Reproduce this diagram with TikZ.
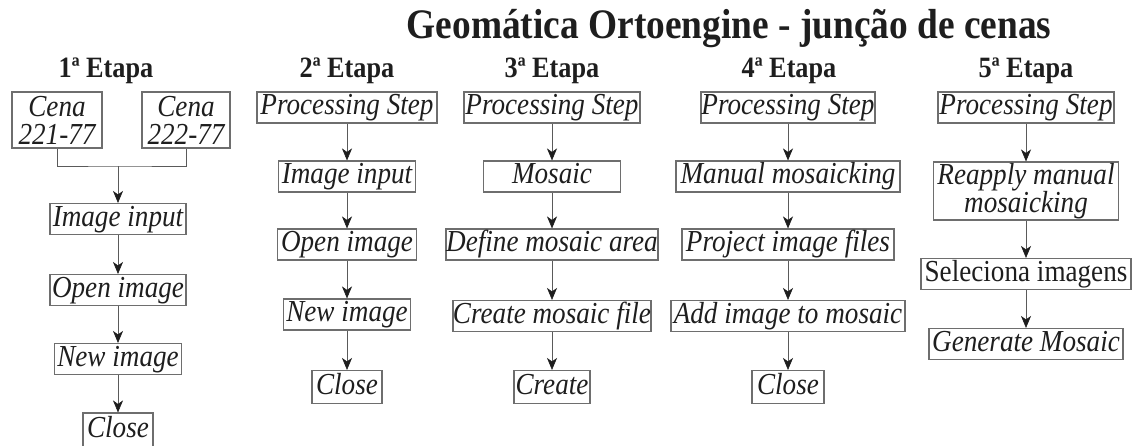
\documentclass[tikz,border=0pt]{standalone}
\usepackage{fontspec}
\setmainfont{Liberation Serif}[FakeStretch=0.89]
\usetikzlibrary{arrows.meta}
\definecolor{boxgray}{HTML}{6E6E6E}
\definecolor{linegray}{HTML}{5A5A5A}
\definecolor{ink}{HTML}{1E1E1E}
\tikzset{
  box/.style={draw=boxgray, line width=1.1pt, inner sep=0pt, minimum height=31pt, text=ink,
    font=\fontsize{30.5}{33}\selectfont\itshape, text height=20.5pt, text depth=6.5pt, anchor=center},
  box2/.style={draw=boxgray, line width=1.1pt, inner sep=0pt, text=ink, align=center,
    font=\fontsize{30.5}{28}\selectfont\itshape, anchor=center},
  arr/.style={draw=linegray, line width=1pt, -{Stealth[length=12pt,width=10pt,inset=3.5pt,color=ink,fill=ink,line width=0.6pt]}},
  conn/.style={draw=linegray, line width=1pt},
  head/.style={font=\fontsize{29.5}{31}\selectfont\bfseries, anchor=base, text=ink, inner sep=0pt},
  ttl/.style={font=\fontsize{42}{44}\selectfont\bfseries, anchor=base, text=ink, inner sep=0pt},
}
\begin{document}
\begin{tikzpicture}[x=1pt,y=-1pt]
\useasboundingbox (0,0) rectangle (1132,445);
\node[ttl] (title) at (729,38) {Geomática Ortoengine - junção de cenas};
% headings
\node[head] (h1) at (106,77) {1ª Etapa};
\node[head] (h2) at (347,77) {2ª Etapa};
\node[head] (h3) at (552,77) {3ª Etapa};
\node[head] (h4) at (789,77) {4ª Etapa};
\node[head] (h5) at (1026,77) {5ª Etapa};
% column 1
\node[box2, minimum width=90pt, minimum height=56pt] (c1) at (57,120) {Cena\\221-77};
\node[box2, minimum width=88pt, minimum height=56pt] (c2) at (186,120) {Cena\\222-77};
\node[box, minimum width=136pt] (a1) at (118,219) {Image input};
\node[box, minimum width=136pt] (a2) at (118,290) {Open image};
\node[box, minimum width=127pt] (a3) at (118,359) {New image};
\node[box, minimum width=70pt, minimum height=34pt] (a4) at (118,430) {Close};
\coordinate (j1) at (118,166);
\draw[conn] (c1.south) |- (j1) -| (c2.south);
\draw[arr] (j1) -- (a1.north);
\draw[arr] (a1) -- (a2);
\draw[arr] (a2) -- (a3);
\draw[arr] (a3) -- (a4);
% column 2
\node[box, minimum width=180pt] (b1) at (347,107.5) {Processing Step};
\node[box, minimum width=137pt] (b2) at (347,176.5) {Image input};
\node[box, minimum width=139pt] (b3) at (347,244.5) {Open image};
\node[box, minimum width=127pt] (b4) at (347,314.5) {New image};
\node[box, minimum width=70pt, minimum height=33pt] (b5) at (347,387) {Close};
\draw[arr] (b1) -- (b2);
\draw[arr] (b2) -- (b3);
\draw[arr] (b3) -- (b4);
\draw[arr] (b4) -- (b5);
% column 3
\node[box, minimum width=176pt] (d1) at (552,107.5) {Processing Step};
\node[box, minimum width=137pt] (d2) at (552,176.5) {Mosaic};
\node[box, minimum width=212pt] (d3) at (552,244.5) {Define mosaic area};
\node[box, minimum width=198pt] (d4) at (552,316) {Create mosaic file};
\node[box, minimum width=76pt, minimum height=33pt] (d5) at (552,387) {Create};
\draw[arr] (d1) -- (d2);
\draw[arr] (d2) -- (d3);
\draw[arr] (d3) -- (d4);
\draw[arr] (d4) -- (d5);
% column 4
\node[box, minimum width=174pt] (e1) at (788,107.5) {Processing Step};
\node[box, minimum width=224pt] (e2) at (788,176.5) {Manual mosaicking};
\node[box, minimum width=212pt] (e3) at (788,244.5) {Project image files};
\node[box, minimum width=234pt] (e4) at (788,316) {Add image to mosaic};
\node[box, minimum width=72pt, minimum height=33pt] (e5) at (788,387) {Close};
\draw[arr] (e1) -- (e2);
\draw[arr] (e2) -- (e3);
\draw[arr] (e3) -- (e4);
\draw[arr] (e4) -- (e5);
% column 5
\node[box, minimum width=176pt] (f1) at (1026,107.5) {Processing Step};
\node[box2, minimum width=185pt, minimum height=58pt] (f2) at (1026,191) {Reapply manual\\mosaicking};
\node[box, minimum width=210pt, font=\fontsize{30.5}{33}\selectfont\upshape] (f3) at (1026,274) {Seleciona imagens};
\node[box, minimum width=194pt] (f4) at (1026,344) {Generate Mosaic};
\draw[arr] (f1) -- (f2);
\draw[arr] (f2) -- (f3);
\draw[arr] (f3) -- (f4);
\end{tikzpicture}
\end{document}
